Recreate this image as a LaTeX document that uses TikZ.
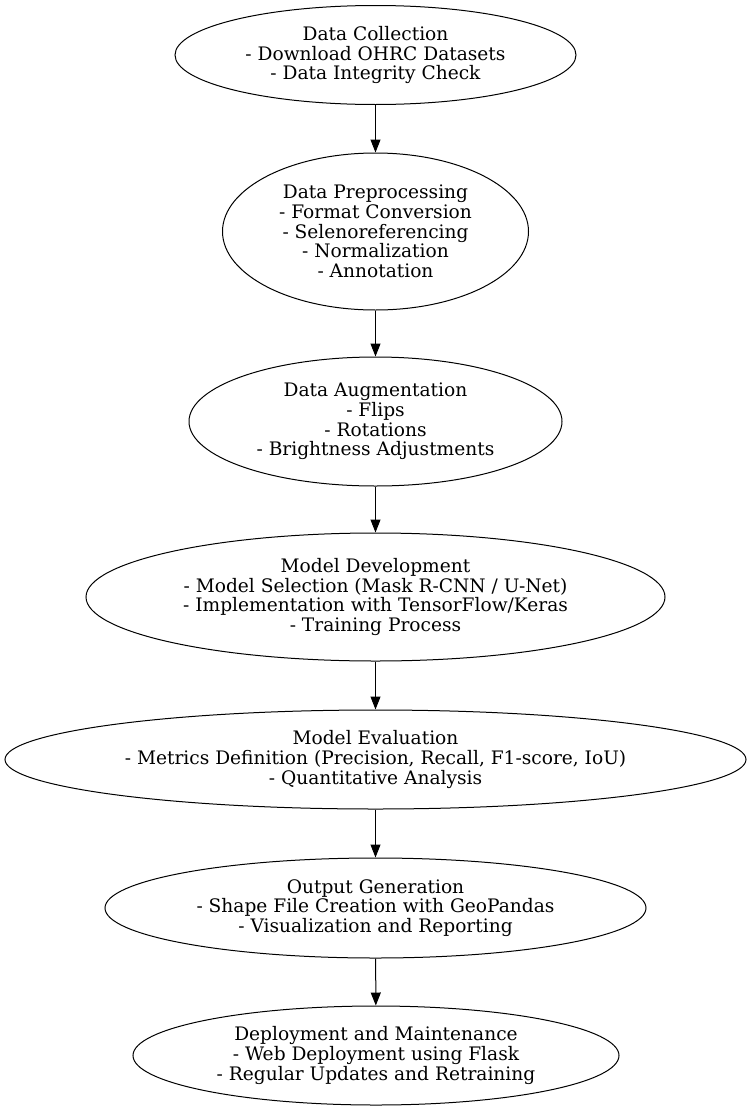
\documentclass[tikz,border=0pt]{standalone}
\usepackage{fontspec}
\setmainfont{DejaVu Serif}
\usetikzlibrary{shapes.geometric,arrows.meta}
\begin{document}
\begin{tikzpicture}[x=1pt,y=-1pt,
  stage/.style={ellipse,draw,line width=1pt,inner sep=0pt,align=center,
    font=\fontsize{18.6}{19.7}\selectfont},
  flow/.style={-{Triangle[length=13pt,width=10pt]},line width=1pt}]
\useasboundingbox (0,0) rectangle (752,1111);
\node[stage,minimum width=401pt,minimum height=99pt] (collect) at (375.5,55)
  {Data Collection\\- Download OHRC Datasets\\- Data Integrity Check};
\node[stage,minimum width=306pt,minimum height=157pt] (prep) at (375.5,231.5)
  {Data Preprocessing\\- Format Conversion\\- Selenoreferencing\\- Normalization\\- Annotation};
\node[stage,minimum width=373pt,minimum height=129pt] (augment) at (375.5,421.5)
  {Data Augmentation\\- Flips\\- Rotations\\- Brightness Adjustments};
\node[stage,minimum width=579pt,minimum height=128pt] (develop) at (375.5,597)
  {Model Development\\- Model Selection (Mask R-CNN / U-Net)\\- Implementation with TensorFlow/Keras\\- Training Process};
\node[stage,minimum width=741pt,minimum height=99pt] (evaluate) at (375.5,759.5)
  {Model Evaluation\\- Metrics Definition (Precision, Recall, F1-score, IoU)\\- Quantitative Analysis};
\node[stage,minimum width=541pt,minimum height=100pt] (output) at (375.5,908)
  {Output Generation\\- Shape File Creation with GeoPandas\\- Visualization and Reporting};
\node[stage,minimum width=486pt,minimum height=99pt] (deploy) at (376,1055.5)
  {Deployment and Maintenance\\- Web Deployment using Flask\\- Regular Updates and Retraining};
\draw[flow] (collect) -- (prep);
\draw[flow] (prep) -- (augment);
\draw[flow] (augment) -- (develop);
\draw[flow] (develop) -- (evaluate);
\draw[flow] (evaluate) -- (output);
\draw[flow] (output) -- (deploy);
\end{tikzpicture}
\end{document}
